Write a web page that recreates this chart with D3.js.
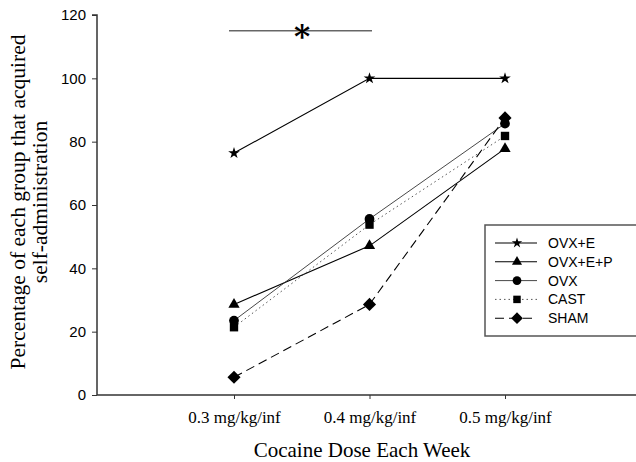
<!DOCTYPE html>
<html>
<head>
<meta charset="utf-8">
<script src="https://cdn.jsdelivr.net/npm/d3@7"></script>
<style>
body { margin: 0; background: #fff; }
svg { display: block; }
</style>
</head>
<body>
<svg id="chart" width="636" height="462"></svg>
<script>
// dose categories and series (percent acquired)
var doses = ["0.3 mg/kg/inf", "0.4 mg/kg/inf", "0.5 mg/kg/inf"];
var ovxE = [76.4, 100, 100];
var ovxEP = [28.6, 47.1, 77.8];
var ovx = [23.5, 55.6, 85.7];
var cast = [21.4, 53.8, 81.8];
var sham = [5.6, 28.6, 87.5];
var yTicks = [0, 20, 40, 60, 80, 100, 120];

var series = [
    { name: "OVX+E", values: ovxE, symbol: d3.symbolStar, size: 42, stroke: "#000", width: 1.1, dash: null },
    { name: "OVX+E+P", values: ovxEP, symbol: d3.symbolTriangle, size: 55, stroke: "#000", width: 1.1, dash: null },
    { name: "OVX", values: ovx, symbol: d3.symbolCircle, size: 75, stroke: "#333", width: 0.9, dash: null },
    { name: "CAST", values: cast, symbol: d3.symbolSquare, size: 70, stroke: "#555", width: 1, dash: "1.5,3" },
    { name: "SHAM", values: sham, symbol: d3.symbolDiamond2, size: 110, stroke: "#000", width: 1.1, dash: "9,5" }
];

var svg = d3.select("#chart");
var mLeft = 97, mTop = 15, mBottom = 395, mRight = 640;

var x = d3.scalePoint().domain(doses).range([234, 505]);
var y = d3.scaleLinear().domain([0, 120]).range([mBottom, mTop]);

// y axis
var yAxis = svg.append("g")
    .attr("transform", "translate(" + mLeft + ",0)")
    .call(d3.axisLeft(y).tickValues(yTicks).tickSize(5).tickPadding(6));
yAxis.select(".domain").attr("stroke", "#333").attr("stroke-width", 1.5).attr("d", "M-5," + y(120) + "H0V" + mBottom);
yAxis.selectAll(".tick line").attr("stroke", "#333");
yAxis.selectAll(".tick text").style("font-family", "Liberation Sans, Arial, sans-serif").style("font-size", "15px").attr("fill", "#000");

// x axis
var xAxis = svg.append("g")
    .attr("transform", "translate(0," + mBottom + ")")
    .call(d3.axisBottom(x).tickSize(4).tickPadding(12));
xAxis.select(".domain").attr("stroke", "#333").attr("stroke-width", 1.5).attr("d", "M" + mLeft + ",0H" + mRight);
xAxis.selectAll(".tick line").attr("stroke", "#333");
xAxis.selectAll(".tick text").style("font-family", "Liberation Serif, Times New Roman, serif").style("font-size", "17px").attr("fill", "#000");

// axis titles
svg.append("text")
    .attr("x", 362).attr("y", 457)
    .attr("text-anchor", "middle")
    .style("font-family", "Liberation Serif, Times New Roman, serif").style("font-size", "21px")
    .text("Cocaine Dose Each Week");

var yt = svg.append("text")
    .attr("transform", "translate(25,202) rotate(-90)")
    .attr("text-anchor", "middle")
    .style("font-family", "Liberation Serif, Times New Roman, serif").style("font-size", "21.5px");
yt.append("tspan").attr("x", 0).attr("dy", 0).text("Percentage of each group that acquired");
yt.append("tspan").attr("x", 0).attr("dy", 22).text("self-administration");

// significance bar
svg.append("line")
    .attr("x1", 229).attr("x2", 372)
    .attr("y1", y(115)).attr("y2", y(115))
    .attr("stroke", "#000").attr("stroke-width", 0.9);
svg.append("text")
    .attr("x", 302).attr("y", y(115) + 16)
    .attr("text-anchor", "middle")
    .style("font-family", "DejaVu Serif, Liberation Serif, serif").style("font-size", "31px")
    .style("font-weight", "bold")
    .text("*");

// lines and markers
var line = d3.line()
    .x(function(d, i) { return x(doses[i]); })
    .y(function(d) { return y(d); });

series.forEach(function(s) {
    svg.append("path")
        .datum(s.values)
        .attr("d", line)
        .attr("fill", "none")
        .attr("stroke", s.stroke)
        .attr("stroke-width", s.width)
        .attr("stroke-dasharray", s.dash);
});

series.forEach(function(s) {
    svg.selectAll(null)
        .data(s.values)
        .enter().append("path")
        .attr("transform", function(d, i) { return "translate(" + x(doses[i]) + "," + y(d) + ")"; })
        .attr("d", d3.symbol().type(s.symbol).size(s.size))
        .attr("fill", "#000");
});

// legend
var lg = svg.append("g");
lg.append("rect")
    .attr("x", 485).attr("y", 225)
    .attr("width", 170).attr("height", 111)
    .attr("fill", "#fff").attr("stroke", "#555").attr("stroke-width", 1.5);

series.forEach(function(s, i) {
    var ly = 243 + i * 18.8;
    lg.append("line")
        .attr("x1", 495).attr("x2", 537)
        .attr("y1", ly).attr("y2", ly)
        .attr("stroke", s.stroke).attr("stroke-width", s.width)
        .attr("stroke-dasharray", s.dash);
    lg.append("path")
        .attr("transform", "translate(517," + ly + ")")
        .attr("d", d3.symbol().type(s.symbol).size(s.size * 0.8))
        .attr("fill", "#000");
    lg.append("text")
        .attr("x", 548).attr("y", ly + 5)
        .style("font-family", "Liberation Sans, Arial, sans-serif").style("font-size", "14px")
        .text(s.name);
});
</script>
</body>
</html>
